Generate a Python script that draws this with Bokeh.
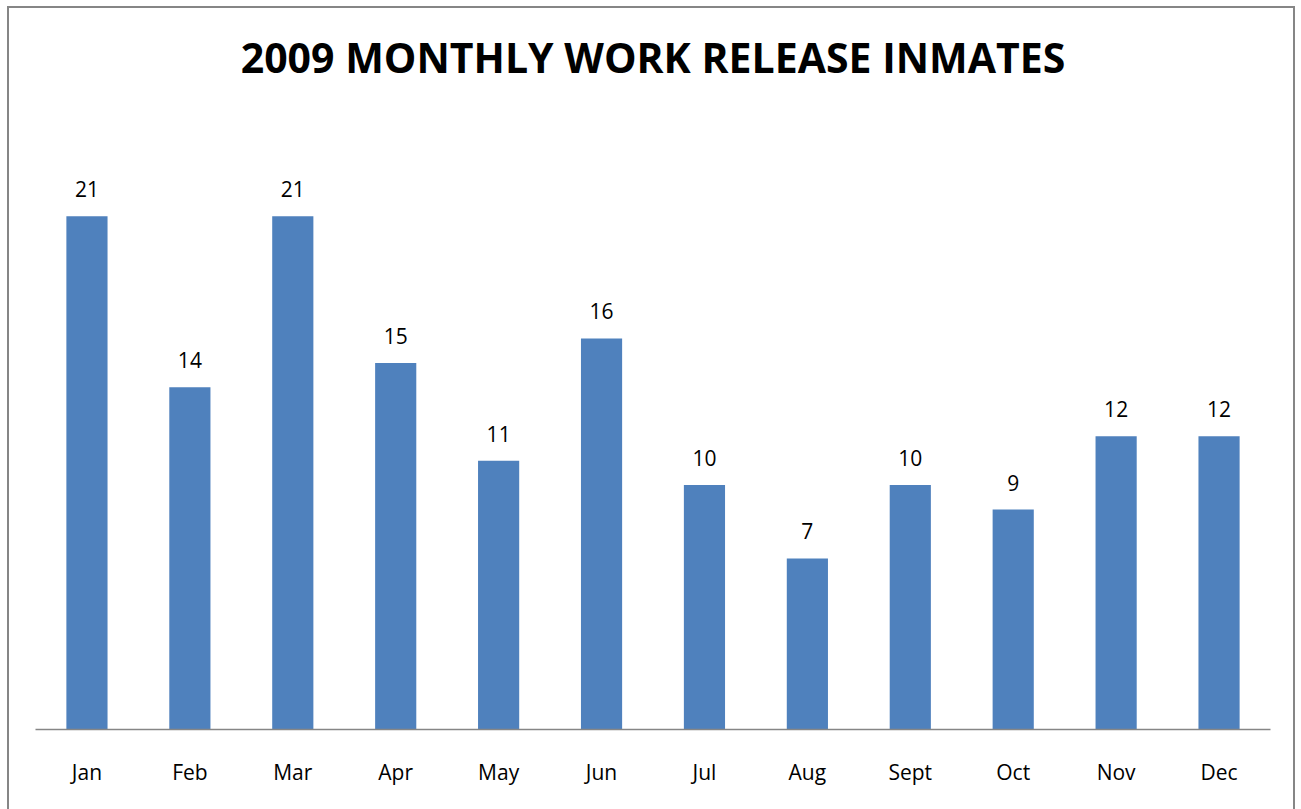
from bokeh.plotting import figure
from bokeh.models import ColumnDataSource, FactorRange, Range1d, Label
from bokeh.core.properties import value
from bokeh.embed import file_html
from bokeh.resources import INLINE

months = ["Jan", "Feb", "Mar", "Apr", "May", "Jun", "Jul", "Aug", "Sept", "Oct", "Nov", "Dec"]
inmates = [21, 14, 21, 15, 11, 16, 10, 7, 10, 9, 12, 12]
title_text = "2009 MONTHLY WORK RELEASE INMATES"

src = ColumnDataSource(dict(m=months, v=inmates, t=[str(v) for v in inmates]))

p = figure(width=1288, height=803, output_backend="svg", toolbar_location=None,
           x_range=FactorRange(factors=months, range_padding=0), y_range=Range1d(0, 29.5),
           min_border_left=26, min_border_right=27, min_border_top=0, min_border_bottom=82,
           background_fill_color="white", border_fill_color="white")
p.styles = {"border-top": "2px solid #868686", "border-left": "2px solid #868686",
            "border-right": "2px solid #868686", "box-sizing": "border-box",
            "margin-left": "7px", "margin-top": "6px"}
p.outline_line_color = None
p.grid.visible = False
p.yaxis.visible = False

p.add_layout(Label(x=len(months) / 2, y=27.5, text=title_text, text_align="center",
                   text_baseline="middle", text_font="Open Sans", text_font_size="41px",
                   text_font_style="bold", text_color="black"))

p.vbar(x="m", top="v", width=0.4, source=src, color="#4F81BD", line_color=None)
p.text(x="m", y="v", text="t", source=src, text_align="center", text_baseline="alphabetic",
       y_offset=-27, text_font=value("Open Sans"), text_font_size="21px", text_color="black")

ax = p.xaxis[0]
ax.axis_line_color = "#868686"
ax.axis_line_width = 1.5
ax.major_tick_line_color = None
ax.minor_tick_line_color = None
ax.major_label_standoff = 22
ax.major_label_text_font = "Open Sans"
ax.major_label_text_font_size = "21px"
ax.major_label_text_color = "black"

open("out.html", "w").write(file_html(p, INLINE))
